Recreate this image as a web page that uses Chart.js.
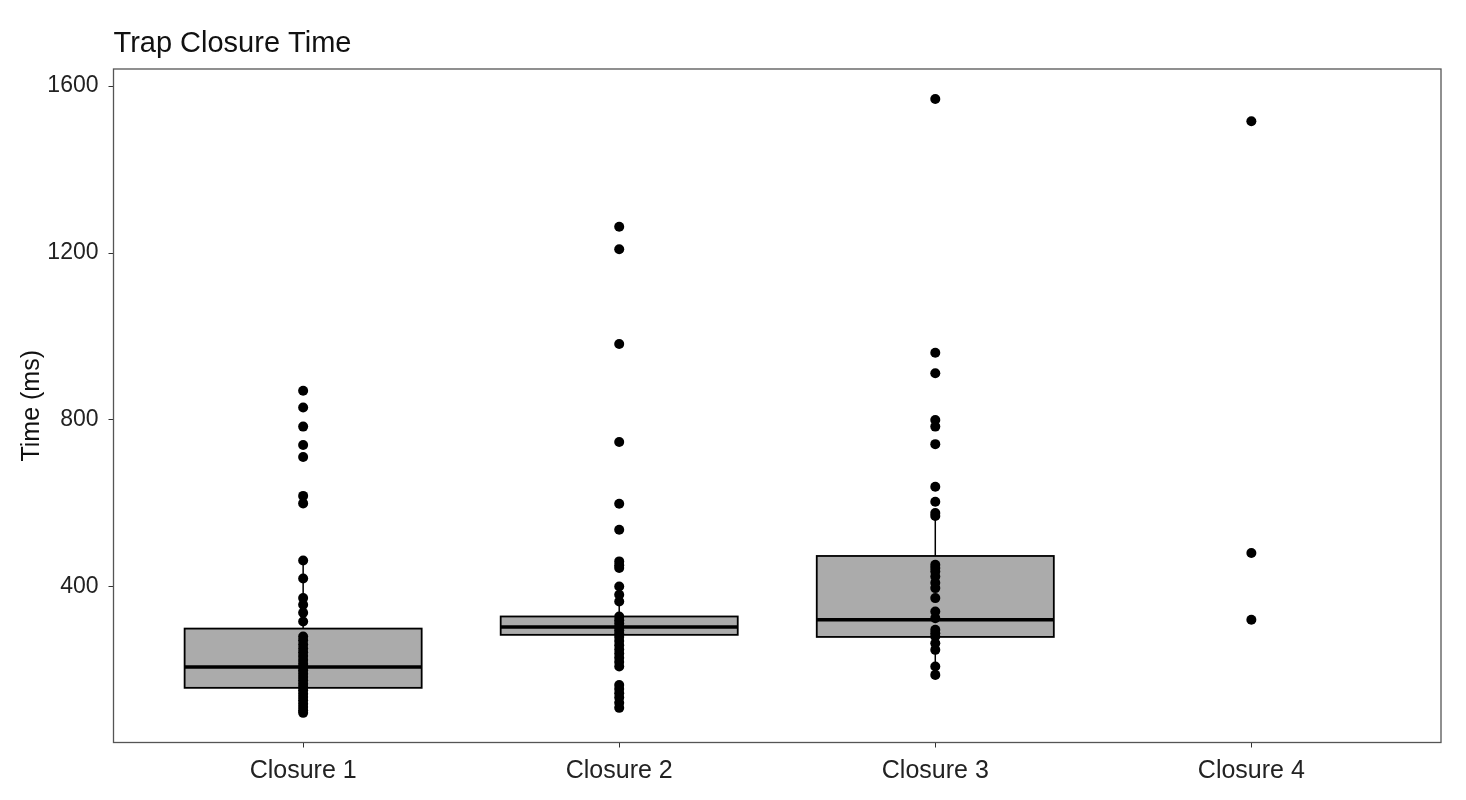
<!DOCTYPE html>
<html>
<head>
<meta charset="utf-8">
<script src="https://cdn.jsdelivr.net/npm/chart.js@4.4.1/dist/chart.umd.min.js"></script>
<style>
  html, body { margin: 0; padding: 0; background: #fff; }
  #wrap { width: 1466px; height: 800px; }
</style>
</head>
<body>
<div id="wrap"><canvas id="box-chart"></canvas></div>
<script>
// Groups on the x axis and the y ticks
var closureLabels = ['Closure 1', 'Closure 2', 'Closure 3', 'Closure 4'];
var yTickValues = [400, 800, 1200, 1600];

// Box statistics (ms), one entry per closure (null = no box)
var boxLower = [158, 285, 280, null];
var boxMedian = [208, 304, 321, null];
var boxUpper = [300, 329, 474, null];
var whiskerLow = [98, 220, 189, null];
var whiskerHigh = [463, 365, 570, null];

// Individual closure times (ms)
var closure1Times = [870, 830, 784, 740, 711, 618, 600, 463, 420, 373, 357, 338, 317,
    281, 272, 262, 252, 243, 234, 225, 216, 208, 200, 192, 184, 176, 168, 160, 152,
    144, 136, 128, 120, 112, 104, 98];
var closure2Times = [1263, 1209, 982, 747, 599, 537, 461, 452, 445, 401, 381, 365,
    329, 320, 312, 304, 296, 288, 280, 270, 260, 250, 240, 230, 220, 209,
    165, 155, 145, 135, 122, 110];
var closure3Times = [1569, 961, 912, 800, 784, 742, 640, 604, 577, 570, 453, 445, 437,
    425, 410, 397, 373, 341, 325, 297, 289, 281, 265, 249, 209, 189];
var closure4Times = [1516, 481, 321];

var allTimes = [closure1Times, closure2Times, closure3Times, closure4Times];
var boxWidth = 0.75; // in x units

// Scatter points: x = group position (1..4)
var pointData = [];
allTimes.forEach(function (list, i) {
    list.forEach(function (t) { pointData.push({ x: i + 1, y: t }); });
});

Chart.defaults.font.family = "'Liberation Sans', Arial, sans-serif";
Chart.defaults.color = '#222';

// Draws the boxes and whiskers through the chart's scales
var boxPlugin = {
    id: 'boxes',
    beforeDatasetsDraw: function (chart) {
        var ctx = chart.ctx, xs = chart.scales.x, ys = chart.scales.y;
        ctx.save();
        for (var i = 0; i < closureLabels.length; i++) {
            if (boxLower[i] == null) continue;
            var cx = xs.getPixelForValue(i + 1);
            var left = xs.getPixelForValue(i + 1 - boxWidth / 2);
            var right = xs.getPixelForValue(i + 1 + boxWidth / 2);
            var yLo = ys.getPixelForValue(boxLower[i]);
            var yHi = ys.getPixelForValue(boxUpper[i]);
            var yMed = ys.getPixelForValue(boxMedian[i]);

            // whiskers
            ctx.strokeStyle = '#000';
            ctx.lineWidth = 1.5;
            ctx.beginPath();
            ctx.moveTo(cx, ys.getPixelForValue(whiskerHigh[i]));
            ctx.lineTo(cx, yHi);
            ctx.moveTo(cx, yLo);
            ctx.lineTo(cx, ys.getPixelForValue(whiskerLow[i]));
            ctx.stroke();

            // box
            ctx.fillStyle = '#ababab';
            ctx.fillRect(left, yHi, right - left, yLo - yHi);
            ctx.lineWidth = 1.8;
            ctx.strokeRect(left, yHi, right - left, yLo - yHi);

            // median
            ctx.lineWidth = 3.5;
            ctx.beginPath();
            ctx.moveTo(left, yMed);
            ctx.lineTo(right, yMed);
            ctx.stroke();
        }
        ctx.restore();
    },
    afterDraw: function (chart) {
        var ctx = chart.ctx, a = chart.chartArea;
        ctx.save();
        // panel border
        ctx.strokeStyle = '#555';
        ctx.lineWidth = 1.3;
        ctx.strokeRect(a.left, a.top, a.right - a.left, a.bottom - a.top);
        // plot title, left aligned with the panel
        ctx.fillStyle = '#111';
        ctx.font = "29px 'Liberation Sans', Arial, sans-serif";
        ctx.textAlign = 'left';
        ctx.textBaseline = 'alphabetic';
        ctx.fillText('Trap Closure Time', a.left, 52);
        ctx.restore();
    }
};

var ctx = document.getElementById('box-chart').getContext('2d');
var chart = new Chart(ctx, {
    type: 'scatter',
    data: {
        datasets: [{
            label: 'Closure time',
            data: pointData,
            pointRadius: 5,
            pointBackgroundColor: '#000',
            pointBorderWidth: 0,
            pointHoverRadius: 5
        }]
    },
    plugins: [boxPlugin],
    options: {
        responsive: true,
        maintainAspectRatio: false,
        animation: false,
        events: [],
        layout: { padding: { left: 0, right: 25, top: 69, bottom: 0 } },
        plugins: {
            legend: { display: false },
            tooltip: { enabled: false }
        },
        scales: {
            x: {
                type: 'linear',
                min: 0.4,
                max: 4.6,
                afterBuildTicks: function (scale) {
                    scale.ticks = closureLabels.map(function (l, i) { return { value: i + 1 }; });
                },
                afterFit: function (scale) { scale.height = 57.5; },
                border: { display: false },
                grid: { drawOnChartArea: false, drawTicks: true, tickLength: 5, color: '#333' },
                ticks: {
                    font: { size: 25 },
                    padding: 9,
                    maxRotation: 0,
                    autoSkip: false,
                    callback: function (v) { return closureLabels[v - 1]; }
                }
            },
            y: {
                min: 27,
                max: 1641,
                afterBuildTicks: function (scale) {
                    scale.ticks = yTickValues.map(function (v) { return { value: v }; });
                },
                afterFit: function (scale) { scale.width = 113.5; },
                border: { display: false },
                grid: { drawOnChartArea: false, drawTicks: true, tickLength: 5, color: '#333' },
                ticks: {
                    font: { size: 23 },
                    padding: 10,
                    callback: function (v) { return String(v); }
                },
                title: {
                    display: true,
                    text: 'Time (ms)',
                    font: { size: 25 },
                    color: '#111',
                    padding: { top: 17, bottom: 0 }
                }
            }
        }
    }
});
</script>
</body>
</html>
